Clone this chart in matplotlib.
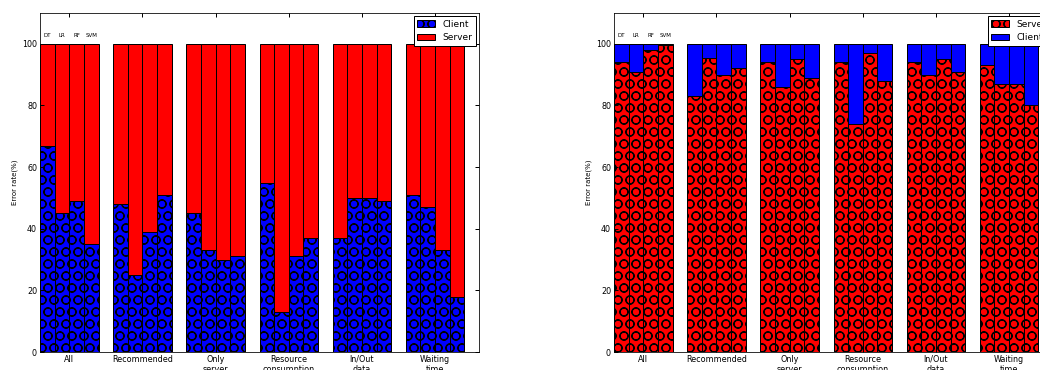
import numpy as np
import matplotlib
matplotlib.use('Agg')
import matplotlib.pyplot as plt

groups = ['All', 'Recommended', 'Only\nserver', 'Resource\nconsumption', 'In/Out\ndata', 'Waiting\ntime']
models = ['DT', 'LR', 'RF', 'SVM']

# left panel: client share (bottom), server is the rest
left_client = [
    [67, 45, 49, 35],
    [48, 25, 39, 51],
    [45, 33, 30, 31],
    [55, 13, 31, 37],
    [37, 50, 50, 49],
    [51, 47, 33, 18],
]
# right panel: server share (bottom), client is the rest
right_server = [
    [94, 91, 98, 99.5],
    [83, 95.5, 90, 92],
    [94, 86, 95, 89],
    [94, 74, 97, 88],
    [94, 90, 95, 91],
    [93, 87, 87, 80],
]

plt.rcParams['hatch.linewidth'] = 1.2
plt.rcParams['font.family'] = 'DejaVu Sans'

W, H = 1040, 370
fig = plt.figure(figsize=(W / 72, H / 72), dpi=72)

bar_w = 0.2


def draw_panel(ax, bottom_vals, bottom_color, top_color, bottom_label, top_label):
    bottom_vals = np.array(bottom_vals, dtype=float)
    top_vals = 100 - bottom_vals
    for j in range(len(models)):
        xs = np.arange(len(groups)) + j * bar_w
        ax.bar(xs, bottom_vals[:, j], bar_w, align='edge', color=bottom_color,
               edgecolor='black', linewidth=1, hatch='O',
               label=bottom_label if j == 0 else None)
        ax.bar(xs, top_vals[:, j], bar_w, bottom=bottom_vals[:, j], align='edge',
               color=top_color, edgecolor='black', linewidth=1,
               label=top_label if j == 0 else None)
    for j, m in enumerate(models):
        ax.text(j * bar_w + bar_w / 2, 102, m, ha='center', va='bottom', fontsize=5.5)
    ax.set_xlim(0, 6)
    ax.set_ylim(0, 110)
    ax.set_xticks(np.arange(len(groups)) + 0.4)
    ax.set_xticklabels(groups, fontsize=8)
    ax.set_yticks([0, 20, 40, 60, 80, 100])
    ax.tick_params(axis='y', labelsize=8)
    ax.tick_params(direction='in', top=True, right=True, length=4, width=1, pad=3)
    ax.set_ylabel('Error rate(%)', fontsize=7)
    ax.legend(loc='upper right', fontsize=9, borderaxespad=0.35, fancybox=False,
              edgecolor='black', framealpha=1, handlelength=2.0)


ax1 = fig.add_axes([40 / W, 18 / H, 439 / W, 339 / H])
draw_panel(ax1, left_client, 'blue', 'red', 'Client', 'Server')

ax2 = fig.add_axes([614 / W, 18 / H, 439 / W, 339 / H])
draw_panel(ax2, right_server, 'red', 'blue', 'Server', 'Client')

fig.savefig('out.png', dpi=72)
